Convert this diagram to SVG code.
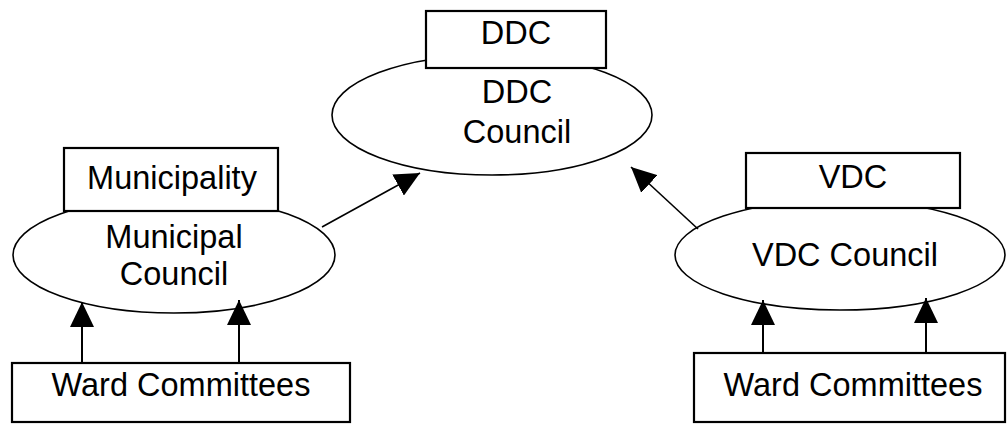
<svg xmlns="http://www.w3.org/2000/svg" width="1007" height="424" viewBox="0 0 1007 424">
<defs>
<style>
.box{fill:#fff;stroke:#000;stroke-width:2.2}
.ell{fill:#fff;stroke:#000;stroke-width:1.6}
.t{font-family:"Liberation Sans",Arial,sans-serif;font-size:32.5px;fill:#000;text-anchor:middle}
.ln{stroke:#000;stroke-width:2;fill:none}
</style>
<marker id="ah" markerUnits="userSpaceOnUse" markerWidth="26" markerHeight="24" refX="25" refY="12" orient="auto">
<path d="M0,0 L25,12 L0,24 Z" fill="#000"/>
</marker>
</defs>
<rect width="1007" height="424" fill="#fff"/>
<g id="ddc-council">
<ellipse class="ell" cx="492" cy="115" rx="160" ry="60"/>
<text class="t" x="517" y="103">DDC</text>
<text class="t" x="517" y="143">Council</text>
</g>
<g id="ddc">
<rect class="box" x="426" y="11" width="180" height="57"/>
<text class="t" x="516" y="44">DDC</text>
</g>
<g id="municipal-council">
<ellipse class="ell" cx="174" cy="255" rx="161" ry="58"/>
<text class="t" x="174" y="248">Municipal</text>
<text class="t" x="174" y="285">Council</text>
</g>
<g id="municipality">
<rect class="box" x="64" y="148" width="214" height="63"/>
<text class="t" x="172" y="189">Municipality</text>
</g>
<g id="vdc-council">
<ellipse class="ell" cx="840" cy="255" rx="165" ry="55"/>
<text class="t" x="845" y="266">VDC Council</text>
</g>
<g id="vdc">
<rect class="box" x="746" y="153" width="214" height="55"/>
<text class="t" x="853" y="188">VDC</text>
</g>
<g id="ward-left">
<rect class="box" x="12" y="363" width="338" height="59"/>
<text class="t" x="181" y="396">Ward Committees</text>
</g>
<g id="ward-right">
<rect class="box" x="694" y="353" width="311" height="69"/>
<text class="t" x="853" y="396">Ward Committees</text>
</g>
<g id="connectors">
<line class="ln" x1="322" y1="227" x2="420" y2="173" marker-end="url(#ah)" style="stroke-width:1.6"/>
<line class="ln" x1="698" y1="229" x2="631" y2="167" marker-end="url(#ah)" style="stroke-width:1.6"/>
<line class="ln" x1="82" y1="363" x2="82" y2="302" marker-end="url(#ah)"/>
<line class="ln" x1="239" y1="363" x2="239" y2="300" marker-end="url(#ah)"/>
<line class="ln" x1="763" y1="353" x2="763" y2="300" marker-end="url(#ah)"/>
<line class="ln" x1="926" y1="353" x2="926" y2="298" marker-end="url(#ah)"/>
</g>
</svg>
